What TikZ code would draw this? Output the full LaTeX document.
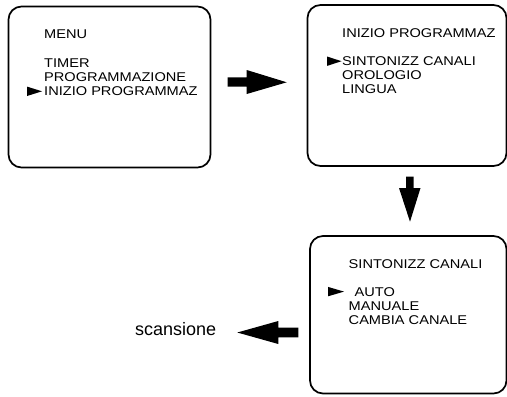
\documentclass[tikz,border=0pt]{standalone}
\usepackage{fontspec}
\setmainfont{Liberation Sans}[FakeStretch=1.15]
\newfontfamily\labelfont{Liberation Sans}
\begin{document}
\begin{tikzpicture}[x=1bp,y=-1bp,
  screen/.style={draw,line width=1.7bp,rounded corners=13bp,inner sep=0pt,outer sep=0pt},
  menutext/.style={anchor=base west,inner sep=0pt,font=\fontsize{12.7bp}{14bp}\selectfont},
  pointer/.style={fill=black},
  bigarrow/.style={fill=black}]
\useasboundingbox (0,0) rectangle (507,396);
% screens
\node[screen,minimum width=202bp,minimum height=161bp] (s1) at (109.5,87) {};
\node[screen,minimum width=199bp,minimum height=161bp] (s2) at (407,85.5) {};
\node[screen,minimum width=196.5bp,minimum height=157.5bp] (s3) at (408.25,314.75) {};
% screen 1
\node[menutext] (a1) at (44,38.3) {MENU};
\node[menutext] (a2) at (44,67.3) {TIMER};
\node[menutext] (a3) at (44,81.2) {PROGRAMMAZIONE};
\node[menutext] (a4) at (44,95.6) {INIZIO PROGRAMMAZ};
\fill[pointer] (27,86.6) -- (42,91.3) -- (27,96) -- cycle;
% screen 2
\node[menutext] (b1) at (342,37.3) {INIZIO PROGRAMMAZ};
\node[menutext] (b2) at (342,65.7) {SINTONIZZ CANALI};
\node[menutext] (b3) at (342,79.5) {OROLOGIO};
\node[menutext] (b4) at (342,93.3) {LINGUA};
\fill[pointer] (327,56.5) -- (341.5,61.2) -- (327,65.9) -- cycle;
% screen 3
\node[menutext] (c1) at (348.5,268.3) {SINTONIZZ CANALI};
\node[menutext] (c2) at (354.5,296) {AUTO};
\node[menutext] (c3) at (348.5,310) {MANUALE};
\node[menutext] (c4) at (348.5,324) {CAMBIA CANALE};
\fill[pointer] (328,286.9) -- (344,291.6) -- (328,296.3) -- cycle;
% label
\node[anchor=base west,inner sep=0pt,font=\labelfont\fontsize{18bp}{20bp}\selectfont] (scan) at (135,335) {scansione};
% block arrows
\fill[bigarrow] (227.7,77.3) -- (246.7,77.3) -- (246.7,70) -- (286.7,82.3) -- (246.7,94) -- (246.7,86.7) -- (227.7,86.7) -- cycle;
\fill[bigarrow] (406,176.7) -- (413.5,176.7) -- (413.5,188) -- (420.5,188) -- (410,221.7) -- (399,188) -- (406,188) -- cycle;
\fill[bigarrow] (298.3,327.7) -- (278.3,327.7) -- (278.3,321) -- (237.3,332.5) -- (278.3,344) -- (278.3,337.3) -- (298.3,337.3) -- cycle;
\end{tikzpicture}
\end{document}
